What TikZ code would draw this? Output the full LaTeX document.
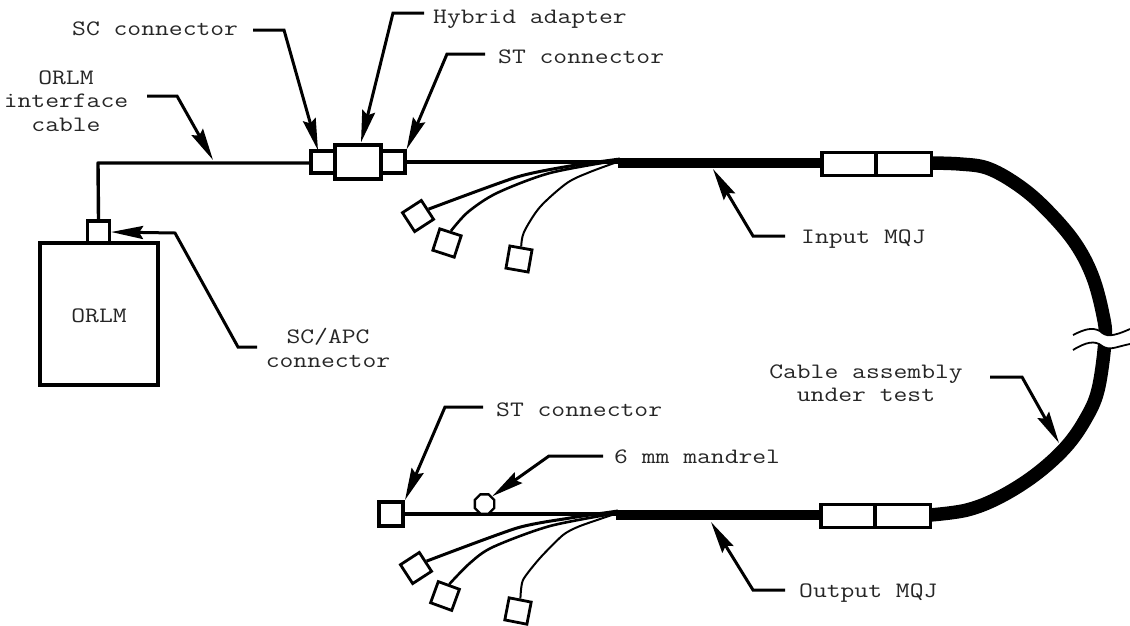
\documentclass[tikz,border=0pt]{standalone}
\usepackage{fontspec}
\setmonofont{Latin Modern Mono}[FakeStretch=1.22]
\usetikzlibrary{arrows.meta,shapes.geometric}
\tikzset{
  lbl/.style={font=\ttfamily\fontsize{22}{23.5}\selectfont,inner sep=0pt,align=center,text=black!85},
  boxn/.style={draw=black,fill=white,line width=3.2pt,inner sep=0pt},
  thin box/.style={draw=black,fill=white,line width=2.8pt,inner sep=0pt,minimum size=22.5pt},
  fibre/.style={line width=3.4pt,line join=round},
  branch/.style={line width=#1,line join=round},
  lead/.style={line width=3pt,line join=miter,-{Stealth[length=32pt,width=13pt,inset=4pt]}},
  cableline/.style={line width=10.5pt},
  wig/.style={line width=1.8pt}
}
\begin{document}
\begin{tikzpicture}[x=1pt,y=-1pt]
\useasboundingbox (0,0) rectangle (1130,625);
\fill[white] (0,0) rectangle (1130,625);
% thick cable
\coordinate (fanA) at (618,160);
\coordinate (fanB) at (616,513);
\draw[line width=13.5pt,line cap=butt] plot[smooth,tension=.6] coordinates {(930,163) (960,164) (987,168) (1015,183) (1042,205) (1073,240) (1092,275) (1103,315) (1105,340) (1098,390) (1085,420) (1065,448) (1035,475) (1000,497) (967,510) (930,515)};
% break
\fill[white] (1073,335) .. controls (1085,329) and (1092,327) .. (1100,331) .. controls (1106,337) and (1112,337) .. (1130,329) -- (1130,344) .. controls (1115,347) and (1110,351) .. (1102,346) .. controls (1095,340) and (1086,342) .. (1073,350) -- cycle;
\draw[wig] (1073,335) .. controls (1085,329) and (1092,327) .. (1100,331) .. controls (1106,337) and (1112,337) .. (1130,329);
\draw[wig] (1073,350) .. controls (1086,342) and (1095,340) .. (1102,346) .. controls (1110,351) and (1115,347) .. (1130,344);
% upper run
\draw[cableline] (618,163) -- (840,163);
\node[boxn,minimum width=54pt,minimum height=23pt] (j1a) at (849,164) {};
\node[boxn,minimum width=55pt,minimum height=23pt] (j1b) at (904,164) {};
\node[draw=black,fill=white,line width=3.2pt,minimum width=118pt,minimum height=142pt,inner sep=0pt] (orlm) at (99,314) {};
\node[lbl] (orlmt) at (99,316) {ORLM};
\node[boxn,minimum width=22pt,minimum height=22pt] (apc) at (98.5,232) {};
\node[boxn,minimum width=24pt,minimum height=22pt] (sc) at (323,162) {};
\node[boxn,minimum width=24pt,minimum height=22pt] (st) at (393,162) {};
\node[boxn,minimum width=46pt,minimum height=34pt] (hy) at (358,162) {};
\coordinate (corner) at (98,163);
\draw[fibre,line cap=butt] (apc.north) -- (corner) -- (sc.west |- corner);
\draw[fibre] (st.east) -- (fanA |- st.east);
% top branches
\node[thin box,rotate=33] (t1) at (418,216) {};
\node[thin box,rotate=-18] (t2) at (447,243) {};
\node[thin box,rotate=-10] (t3) at (519,259) {};
\draw[branch=3pt] plot[smooth,tension=.4] coordinates {(t1.east) (517,177) (570,166) (620,159)};
\draw[branch=2.6pt] plot[smooth,tension=.5] coordinates {(t2.north) (468,212) (497,193) (550,173) (620,160)};
\draw[branch=2pt] plot[smooth,tension=.5] coordinates {(t3.north) (524,232) (540,207) (567,183) (590,172) (620,161)};
% lower run
\draw[cableline] (616,515) -- (835,515);
\node[boxn,minimum width=54pt,minimum height=23pt] (j2a) at (848,516) {};
\node[boxn,minimum width=55pt,minimum height=23pt] (j2b) at (903,516) {};
\node[draw=black,fill=white,line width=4pt,minimum size=24pt,inner sep=0pt] (stb) at (391,514) {};
\draw[fibre] (stb.east) -- (fanB |- stb.east);
\node[regular polygon,regular polygon sides=8,draw=black,fill=white,line width=2.4pt,minimum size=21pt,inner sep=0pt] (man) at (484.5,504) {};
\node[thin box,rotate=33] (b1) at (416,568) {};
\node[thin box,rotate=-20] (b2) at (445,596) {};
\node[thin box,rotate=-11] (b3) at (518,611) {};
\draw[branch=3pt] plot[smooth,tension=.4] coordinates {(b1.east) (517,528) (570,518) (618,511)};
\draw[branch=2.6pt] plot[smooth,tension=.5] coordinates {(b2.north) (470,563) (493,547) (550,526) (618,513)};
\draw[branch=2pt] plot[smooth,tension=.4] coordinates {(b3.north) (523,580) (540,558) (563,535) (580,526) (618,513)};
% labels
\node[lbl,anchor=base west] (tsc) at (72,35) {SC connector};
\node[lbl,anchor=base west] (thy) at (433,23) {Hybrid adapter};
\node[lbl,anchor=base west] (tst) at (498,63) {ST connector};
\node[lbl] (torlm) at (66,101) {ORLM\\interface\\cable};
\node[lbl] (tapc) at (328,348) {SC/APC\\connector};
\node[lbl,anchor=base west] (tin) at (801,243) {Input MQJ};
\node[lbl,anchor=base west] (tout) at (799,597) {Output MQJ};
\node[lbl] (tcab) at (866,383) {Cable assembly\\under test};
\node[lbl,anchor=base west] (tstb) at (496,416) {ST connector};
\node[lbl,anchor=base west] (tman) at (614,463) {6 mm mandrel};
% leaders
\coordinate (l1s) at (253,30); \coordinate (l1k) at (284,30);
\draw[lead] (l1s) -- (l1k) -- ([xshift=-5pt,yshift=-1pt]sc.north);
\coordinate (l2s) at (424,13); \coordinate (l2k) at (393,13);
\draw[lead] (l2s) -- (l2k) -- ([xshift=3pt,yshift=1pt]hy.north);
\coordinate (l3s) at (485,54); \coordinate (l3k) at (447,54);
\draw[lead] (l3s) -- (l3k) -- (st.north east);
\coordinate (l4s) at (147,96); \coordinate (l4k) at (177,96);
\coordinate (l4t) at (213,160);
\draw[lead] (l4s) -- (l4k) -- (l4t);
\coordinate (l5s) at (257,347); \coordinate (l5k) at (238,347); \coordinate (l5m) at (175,233);
\draw[lead] (l5s) -- (l5k) -- (l5m) -- (apc.east);
\coordinate (l6s) at (785,236); \coordinate (l6k) at (753,236); \coordinate (l6t) at (713,169);
\draw[lead] (l6s) -- (l6k) -- (l6t);
\coordinate (l7s) at (785,590); \coordinate (l7k) at (753,590); \coordinate (l7t) at (711,522);
\draw[lead] (l7s) -- (l7k) -- (l7t);
\coordinate (l8s) at (990,377); \coordinate (l8k) at (1022,377); \coordinate (l8t) at (1059,443);
\draw[lead] (l8s) -- (l8k) -- (l8t);
\coordinate (l9s) at (483,407); \coordinate (l9k) at (445,407);
\draw[lead] (l9s) -- (l9k) -- (stb.north east);
\coordinate (l10s) at (603,456); \coordinate (l10k) at (549,456);
\draw[lead] (l10s) -- (l10k) -- (man.north east);
\end{tikzpicture}
\end{document}
